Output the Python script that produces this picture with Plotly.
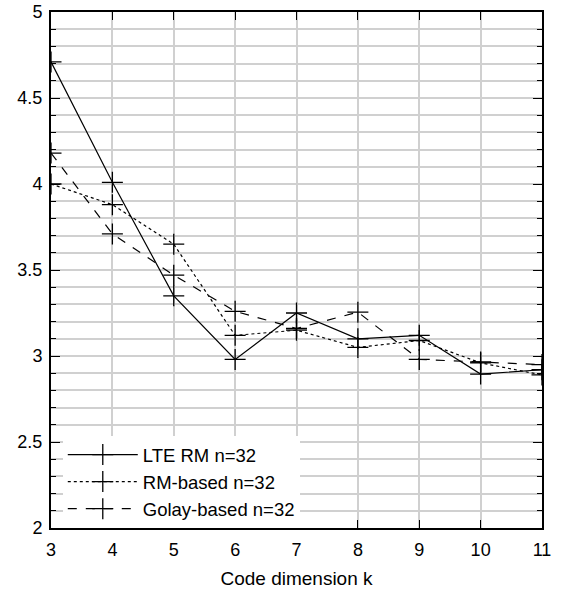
import plotly.graph_objects as go

k = [3, 4, 5, 6, 7, 8, 9, 10, 11]
lte_rm = [4.71, 4.01, 3.35, 2.98, 3.25, 3.10, 3.12, 2.895, 2.92]
rm_based = [4.00, 3.88, 3.65, 3.12, 3.15, 3.05, 3.09, 2.96, 2.89]
golay_based = [4.18, 3.71, 3.47, 3.26, 3.16, 3.255, 2.98, 2.965, 2.95]

series = [
    ("LTE RM n=32", lte_rm, "solid"),
    ("RM-based n=32", rm_based, "dot"),
    ("Golay-based n=32", golay_based, "dash"),
]

fig = go.Figure()
for name, vals, dash in series:
    fig.add_trace(go.Scatter(
        x=k, y=vals, name=name, mode="lines+markers",
        line=dict(color="black", width=1.2, dash=dash),
        marker=dict(symbol="cross-thin", size=15, line=dict(color="black", width=1.3)),
    ))

font = "Liberation Sans, Arial, sans-serif"
grid = "#d0d0d0"
fig.update_layout(
    width=566, height=590,
    margin=dict(l=51, r=24, t=12, b=62),
    paper_bgcolor="white", plot_bgcolor="white",
    font=dict(family=font, size=18, color="black"),
    showlegend=True,
    legend=dict(x=0.024, y=0.0, xanchor="left", yanchor="bottom",
                bgcolor="white", borderwidth=0, font=dict(size=18.5),
                itemwidth=70, tracegroupgap=0),
)
fig.update_xaxes(
    range=[3, 11], tickmode="linear", tick0=3, dtick=1,
    showline=True, linecolor="black", linewidth=2, mirror="ticks",
    ticks="inside", ticklen=8, tickcolor="black", tickwidth=1,
    showgrid=True, gridcolor=grid, gridwidth=1.5, zeroline=False,
    automargin=False, ticklabelstandoff=4,
    title=dict(text="Code dimension k", font=dict(size=19), standoff=13),
    tickfont=dict(size=18),
)
fig.update_yaxes(
    range=[2, 5], tickmode="linear", tick0=2, dtick=0.5,
    showline=True, linecolor="black", linewidth=2, mirror="ticks",
    ticks="inside", ticklen=9, tickcolor="black", tickwidth=1,
    showgrid=True, gridcolor=grid, gridwidth=1.5, zeroline=False,
    automargin=False, ticklabelstandoff=3,
    minor=dict(dtick=0.1, ticks="inside", ticklen=5, tickcolor="black",
               showgrid=True, gridcolor=grid, gridwidth=1.5),
    tickfont=dict(size=18),
)
fig.write_html("out.html", config={"displayModeBar": False},
               post_script="document.body.style.margin='0';")
